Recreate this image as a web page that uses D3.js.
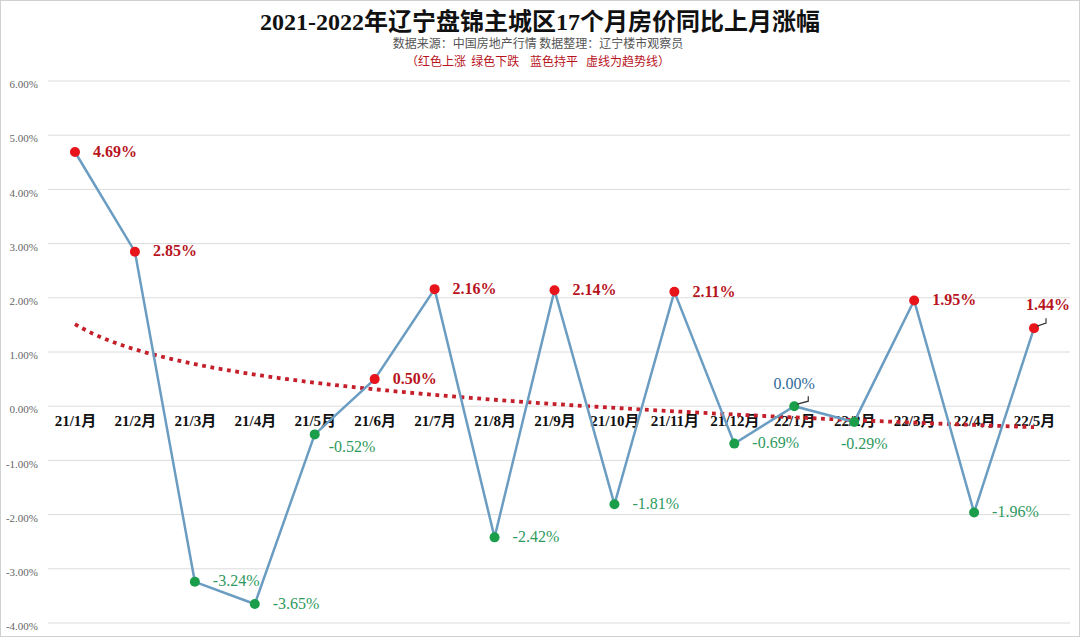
<!DOCTYPE html>
<html>
<head>
<meta charset="utf-8">
<script src="https://cdn.jsdelivr.net/npm/d3@7"></script>
<style>
  html, body { margin: 0; padding: 0; background: #fff; }
  svg { display: block; }
</style>
</head>
<body>
<svg id="chart" width="1080" height="638"></svg>
<script>
// ---- data ----
const categories = ["21/1月","21/2月","21/3月","21/4月","21/5月","21/6月","21/7月","21/8月","21/9月","21/10月","21/11月","21/12月","22/1月","22/2月","22/3月","22/4月","22/5月"];
const values = [4.69, 2.85, -3.24, -3.65, -0.52, 0.50, 2.16, -2.42, 2.14, -1.81, 2.11, -0.69, 0.00, -0.29, 1.95, -1.96, 1.44];
const yTicks = [6, 5, 4, 3, 2, 1, 0, -1, -2, -3, -4];
const titleText = "2021-2022年辽宁盘锦主城区17个月房价同比上月涨幅";
const subtitleText = "数据来源：中国房地产行情 数据整理：辽宁楼市观察员";
const noteText = "（红色上涨  绿色下跌    蓝色持平   虚线为趋势线）";

// ---- layout ----
const W = 1080, H = 638;
const svg = d3.select("#chart");
const serif = "'Liberation Serif','Times New Roman','Noto Sans CJK SC',serif";
const cjk = "'Noto Sans CJK SC','Liberation Sans',sans-serif";

svg.append("rect").attr("x", 0.5).attr("y", 0.5).attr("width", W - 1).attr("height", H - 2)
  .attr("fill", "#fff").attr("stroke", "#d0d0d0");

const x = d3.scalePoint().domain(categories).range([45, 1064]).padding(0.5);
const y = d3.scaleLinear().domain([-4, 6]).range([623, 81]);

// gridlines
const grid = svg.append("g");
grid.selectAll("line").data(yTicks).join("line")
  .attr("x1", 48).attr("x2", 1070)
  .attr("y1", d => y(d)).attr("y2", d => y(d))
  .attr("stroke", "#dcdcdc").attr("stroke-width", 1);

// y axis labels
const yAxis = d3.axisLeft(y).tickValues(yTicks).tickFormat(d => d.toFixed(2) + "%").tickSize(0).tickPadding(0);
const yg = svg.append("g").attr("transform", "translate(38,0)").call(yAxis);
yg.select(".domain").remove();
yg.selectAll("text").attr("font-family", serif).attr("font-size", 11).attr("fill", "#666").attr("dy", "0.6em");

// x axis labels
const xAxis = d3.axisBottom(x).tickSize(0).tickPadding(0);
const xg = svg.append("g").attr("transform", `translate(0,${y(0) + 9})`).call(xAxis);
xg.select(".domain").remove();
xg.selectAll("text").attr("font-family", serif).attr("font-size", 15).attr("font-weight", "bold").attr("fill", "#111");

// trend line (logarithmic least-squares fit of the values)
const lnx = values.map((v, i) => Math.log(i + 1));
const mL = d3.mean(lnx), mY = d3.mean(values);
const slope = d3.sum(lnx, (l, i) => (l - mL) * (values[i] - mY)) / d3.sum(lnx, l => (l - mL) ** 2);
const intercept = mY - slope * mL;
const xs = d3.scaleLinear().domain([1, categories.length]).range([x(categories[0]), x(categories[categories.length - 1])]);
const trendPts = d3.range(1, categories.length + 0.001, 0.1).map(t => [xs(t), y(intercept + slope * Math.log(t))]);
svg.append("path").attr("d", d3.line()(trendPts))
  .attr("fill", "none").attr("stroke", "#c41f2a").attr("stroke-width", 3.8)
  .attr("stroke-dasharray", "3.8,4.6");

// data line
const line = d3.line().x((d, i) => x(categories[i])).y(d => y(d));
svg.append("path").datum(values).attr("d", line)
  .attr("fill", "none").attr("stroke", "#6b9dc2").attr("stroke-width", 2.5);

// points
svg.append("g").selectAll("circle").data(values).join("circle")
  .attr("cx", (d, i) => x(categories[i])).attr("cy", d => y(d)).attr("r", 5)
  .attr("fill", d => d > 0 ? "#e8141c" : "#1a9e4a");

// leader lines for centered labels
const leaders = { 12: [[3, -2], [14, -5], [14, -10]], 16: [[3, -2], [12, -5], [12, -10]] };
Object.entries(leaders).forEach(([i, pts]) => {
  const cx = x(categories[i]), cy = y(values[i]);
  svg.append("path").attr("d", d3.line()(pts.map(p => [cx + p[0], cy + p[1]])))
    .attr("fill", "none").attr("stroke", "#333").attr("stroke-width", 1.2);
});

// value labels
const placement = { 4: { dx: 14, dy: 14, anchor: "start" }, 12: { dx: 0, dy: -21, anchor: "middle" },
                    13: { dx: 10, dy: 23, anchor: "middle" }, 16: { dx: 14, dy: -22, anchor: "middle" } };
svg.append("g").selectAll("text").data(values).join("text")
  .attr("x", (d, i) => x(categories[i]) + (placement[i] ? placement[i].dx : 18))
  .attr("y", (d, i) => y(d) + (placement[i] ? placement[i].dy : 1))
  .attr("text-anchor", (d, i) => placement[i] ? placement[i].anchor : "start")
  .attr("dominant-baseline", "middle")
  .attr("font-family", serif).attr("font-size", 16)
  .attr("font-weight", d => d > 0 ? "bold" : "normal")
  .attr("fill", d => d > 0 ? "#b8141e" : (d < 0 ? "#2e9a5e" : "#2f6a98"))
  .text(d => d.toFixed(2) + "%");

// titles
svg.append("text").attr("x", 540).attr("y", 30).attr("text-anchor", "middle")
  .attr("font-family", serif).attr("font-size", 24).attr("font-weight", "bold").attr("fill", "#111")
  .text(titleText);
svg.append("text").attr("x", 538).attr("y", 48).attr("text-anchor", "middle")
  .attr("font-family", cjk).attr("font-size", 12).attr("fill", "#555")
  .text(subtitleText);
svg.append("text").attr("x", 538).attr("y", 66).attr("text-anchor", "middle")
  .attr("font-family", cjk).attr("font-size", 12).attr("fill", "#b8141e")
  .style("white-space", "pre")
  .text(noteText);
</script>
</body>
</html>
